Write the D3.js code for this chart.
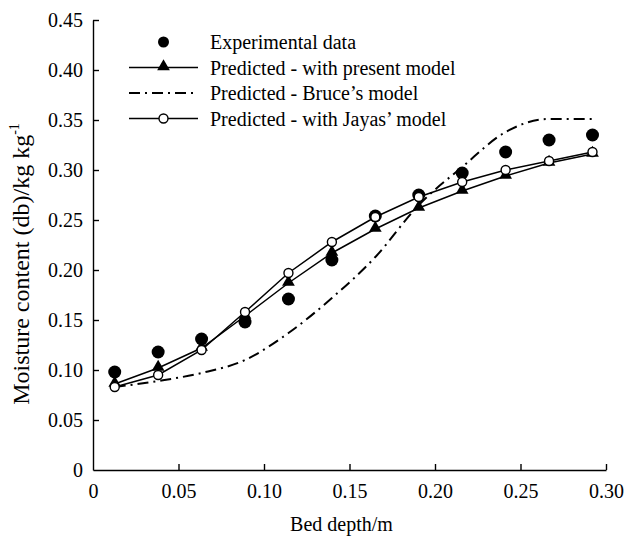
<!DOCTYPE html>
<html>
<head>
<meta charset="utf-8">
<script src="https://cdn.jsdelivr.net/npm/d3@7"></script>
<style>
  html, body { margin: 0; padding: 0; background: #fff; }
  svg { display: block; }
  svg text { font-family: 'Liberation Serif', 'Times New Roman', serif !important; fill: #000; }
</style>
</head>
<body>
<svg id="chart" width="627" height="538"></svg>
<script>
// ---- data ----
const bedDepth = [0.0127, 0.0381, 0.0635, 0.0889, 0.1143, 0.1397, 0.1651, 0.1905, 0.2159, 0.2413, 0.2667, 0.2921];
const experimental = [0.098, 0.118, 0.131, 0.148, 0.171, 0.210, 0.254, 0.275, 0.297, 0.318, 0.330, 0.335];
const presentModel = [0.086, 0.102, 0.122, 0.154, 0.187, 0.217, 0.241, 0.262, 0.279, 0.294, 0.307, 0.316];
const bruceModel   = [0.083, 0.089, 0.097, 0.110, 0.137, 0.172, 0.213, 0.265, 0.303, 0.338, 0.351, 0.351];
const jayasModel   = [0.083, 0.095, 0.120, 0.158, 0.197, 0.228, 0.253, 0.273, 0.288, 0.300, 0.309, 0.318];
const xTicks = [0, 0.05, 0.10, 0.15, 0.20, 0.25, 0.30];
const xTickLabels = ["0", "0.05", "0.10", "0.15", "0.20", "0.25", "0.30"];
const yTicks = [0, 0.05, 0.10, 0.15, 0.20, 0.25, 0.30, 0.35, 0.40, 0.45];
const yTickLabels = ["0", "0.05", "0.10", "0.15", "0.20", "0.25", "0.30", "0.35", "0.40", "0.45"];
const legendLabels = ["Experimental data", "Predicted - with present model", "Predicted - Bruce\u2019s model", "Predicted - with Jayas\u2019 model"];

// ---- layout ----
const svg = d3.select("#chart");
const pLeft = 93, pRight = 606, pTop = 20, pBottom = 470;
const x = d3.scaleLinear().domain([0, 0.30]).range([pLeft, pRight]);
const y = d3.scaleLinear().domain([0, 0.45]).range([pBottom, pTop]);
const fontSize = 20;
const serif = "'Liberation Serif', 'Times New Roman', serif";

// axes
const xAxis = d3.axisBottom(x).tickValues(xTicks).tickSizeInner(-6).tickSizeOuter(0)
  .tickPadding(14).tickFormat((d, i) => xTickLabels[i]);
const gx = svg.append("g").attr("transform", `translate(0,${pBottom})`).call(xAxis);
const yAxis = d3.axisLeft(y).tickValues(yTicks).tickSizeInner(-6).tickSizeOuter(0)
  .tickPadding(10).tickFormat((d, i) => yTickLabels[i]);
const gy = svg.append("g").attr("transform", `translate(${pLeft},0)`).call(yAxis);
[gx, gy].forEach(g => {
  g.attr("font-family", null).attr("font-size", null);
  g.select(".domain").attr("stroke", "#000").attr("stroke-width", 1.4);
  g.selectAll(".tick line").attr("stroke", "#000").attr("stroke-width", 1.4);
  g.selectAll(".tick text").style("font-size", fontSize + "px").style("font-family", serif).attr("fill", "#000");
});
gx.selectAll(".tick").filter(d => d === 0).select("line").remove();
gy.selectAll(".tick").filter(d => d === 0).select("line").remove();

// axis titles
svg.append("text").attr("x", (pLeft + pRight) / 2 - 8).attr("y", 531)
  .attr("text-anchor", "middle").style("font-size", fontSize + "px").style("font-family", serif).text("Bed depth/m");
const yl = svg.append("text").attr("transform", `translate(29,264) rotate(-90)`)
  .attr("text-anchor", "middle").style("font-size", "24px").style("font-family", serif);
yl.append("tspan").text("Moisture content (db)/kg kg");
yl.append("tspan").style("font-size", "14px").attr("dy", -10).text("-1");

// ---- series ----
const pts = arr => arr.map((v, i) => [bedDepth[i], v]);
const lineStraight = d3.line().x(d => x(d[0])).y(d => y(d[1]));
const lineSmooth = d3.line().x(d => x(d[0])).y(d => y(d[1])).curve(d3.curveMonotoneX);

svg.append("path").attr("d", lineSmooth(pts(bruceModel))).attr("fill", "none")
  .attr("stroke", "#000").attr("stroke-width", 2).attr("stroke-dasharray", "11,5,2,5");
svg.append("path").attr("d", lineStraight(pts(presentModel))).attr("fill", "none")
  .attr("stroke", "#000").attr("stroke-width", 1.5);
svg.append("path").attr("d", lineStraight(pts(jayasModel))).attr("fill", "none")
  .attr("stroke", "#000").attr("stroke-width", 1.5);

const tri = d3.symbol().type(d3.symbolTriangle).size(70);

svg.append("g").selectAll("circle").data(pts(experimental)).join("circle")
  .attr("cx", d => x(d[0])).attr("cy", d => y(d[1])).attr("r", 6.5).attr("fill", "#000");
svg.append("g").selectAll("path").data(pts(presentModel)).join("path")
  .attr("d", tri).attr("transform", d => `translate(${x(d[0])},${y(d[1]) - 1})`).attr("fill", "#000");
svg.append("g").selectAll("circle").data(pts(jayasModel)).join("circle")
  .attr("cx", d => x(d[0])).attr("cy", d => y(d[1])).attr("r", 4.5)
  .attr("fill", "#fff").attr("stroke", "#000").attr("stroke-width", 1.4);

// ---- legend ----
const lgX0 = 129, lgX1 = 198, lgMid = 163.5, lgText = 210;
const rows = [42, 67.5, 93, 118.5];
const lg = svg.append("g");
lg.append("circle").attr("cx", lgMid).attr("cy", rows[0]).attr("r", 5.5).attr("fill", "#000");
lg.append("line").attr("x1", lgX0).attr("x2", lgX1).attr("y1", rows[1]).attr("y2", rows[1])
  .attr("stroke", "#000").attr("stroke-width", 1.5);
lg.append("path").attr("d", tri).attr("transform", `translate(${lgMid},${rows[1] - 1})`).attr("fill", "#000");
lg.append("line").attr("x1", lgX0).attr("x2", lgX1).attr("y1", rows[2]).attr("y2", rows[2])
  .attr("stroke", "#000").attr("stroke-width", 2).attr("stroke-dasharray", "11,5,2,5");
lg.append("line").attr("x1", lgX0).attr("x2", lgX1).attr("y1", rows[3]).attr("y2", rows[3])
  .attr("stroke", "#000").attr("stroke-width", 1.5);
lg.append("circle").attr("cx", lgMid).attr("cy", rows[3]).attr("r", 4.5)
  .attr("fill", "#fff").attr("stroke", "#000").attr("stroke-width", 1.4);
legendLabels.forEach((t, i) => {
  lg.append("text").attr("x", lgText).attr("y", rows[i]).attr("dy", "0.35em")
    .style("font-size", fontSize + "px").style("font-family", serif).text(t);
});
</script>
</body>
</html>
